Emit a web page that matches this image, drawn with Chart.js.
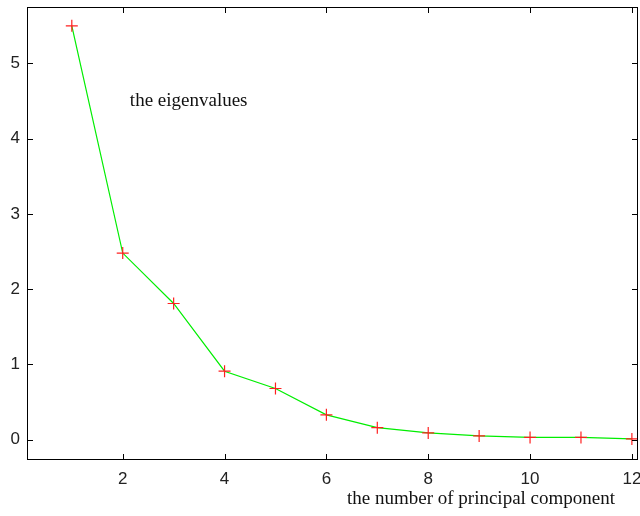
<!DOCTYPE html>
<html>
<head>
<meta charset="utf-8">
<script src="https://cdn.jsdelivr.net/npm/chart.js@4/dist/chart.umd.min.js"></script>
<style>
  html, body { margin: 0; padding: 0; background: #fff; }
  #wrap { width: 640px; height: 516px; }
</style>
</head>
<body>
<div id="wrap"><canvas id="eigChart"></canvas></div>
<script>
// donnees
const components = [1, 2, 3, 4, 5, 6, 7, 8, 9, 10, 11, 12];
const eigenvalues = [5.5, 2.48, 1.81, 0.91, 0.68, 0.33, 0.16, 0.09, 0.05, 0.03, 0.03, 0.01];
const xTicks = [2, 4, 6, 8, 10, 12];
const yTicks = [0, 1, 2, 3, 4, 5];
const curveLabel = 'the eigenvalues';
const xTitle = 'the number of principal component';

const points = components.map((c, i) => ({ x: c, y: eigenvalues[i] }));

// cadre + graduations vers l'interieur, facon matlab
const boxPlugin = {
    id: 'box',
    afterDraw(chart) {
        const { ctx, chartArea: a, scales } = chart;
        ctx.save();
        ctx.strokeStyle = '#000';
        ctx.lineWidth = 1;
        ctx.strokeRect(a.left + 0.5, a.top + 0.5, a.right - a.left - 1, a.bottom - a.top - 1);
        const len = 6;
        ctx.beginPath();
        xTicks.forEach(v => {
            const px = Math.round(scales.x.getPixelForValue(v)) + 0.5;
            ctx.moveTo(px, a.bottom); ctx.lineTo(px, a.bottom - len);
            ctx.moveTo(px, a.top); ctx.lineTo(px, a.top + len);
        });
        yTicks.forEach(v => {
            const py = Math.round(scales.y.getPixelForValue(v)) + 0.5;
            ctx.moveTo(a.left, py); ctx.lineTo(a.left + len, py);
            ctx.moveTo(a.right, py); ctx.lineTo(a.right - len, py);
        });
        ctx.stroke();

        // textes
        ctx.fillStyle = '#111';
        ctx.font = '19px "Liberation Serif", serif';
        ctx.textAlign = 'left';
        ctx.textBaseline = 'alphabetic';
        ctx.fillText(curveLabel, scales.x.getPixelForValue(2.14), scales.y.getPixelForValue(4.44));
        ctx.textAlign = 'center';
        ctx.fillText(xTitle, 481, 504);
        ctx.restore();
    }
};

const tickFont = { family: '"Liberation Sans", Arial, sans-serif', size: 17 };

new Chart(document.getElementById('eigChart'), {
    type: 'scatter',
    data: {
        datasets: [{
            data: points,
            showLine: true,
            clip: false,
            borderColor: '#00ee00',
            borderWidth: 1.2,
            pointStyle: 'cross',
            pointRadius: 6,
            pointBorderColor: '#ff2020',
            pointBorderWidth: 1.2,
            pointBackgroundColor: '#ff2020',
            tension: 0
        }]
    },
    options: {
        responsive: true,
        maintainAspectRatio: false,
        animation: false,
        layout: { autoPadding: false, padding: { top: 7, right: 2, left: 0, bottom: 0 } },
        plugins: { legend: { display: false }, tooltip: { enabled: false } },
        scales: {
            x: {
                type: 'linear',
                min: 0.12,
                max: 12.12,
                grid: { display: false, drawTicks: false },
                border: { display: false },
                afterBuildTicks: s => { s.ticks = xTicks.map(v => ({ value: v })); },
                afterFit: s => { s.height = 56; s.paddingLeft = 0; s.paddingRight = 0; },
                ticks: { color: '#222', font: tickFont, padding: 9, maxRotation: 0 }
            },
            y: {
                min: -0.27,
                max: 5.75,
                grid: { display: false, drawTicks: false },
                border: { display: false },
                afterBuildTicks: s => { s.ticks = yTicks.map(v => ({ value: v })); },
                afterFit: s => { s.width = 27; s.paddingTop = 0; s.paddingBottom = 0; },
                ticks: { color: '#222', font: tickFont, padding: 7 }
            }
        }
    },
    plugins: [boxPlugin]
});
</script>
</body>
</html>
